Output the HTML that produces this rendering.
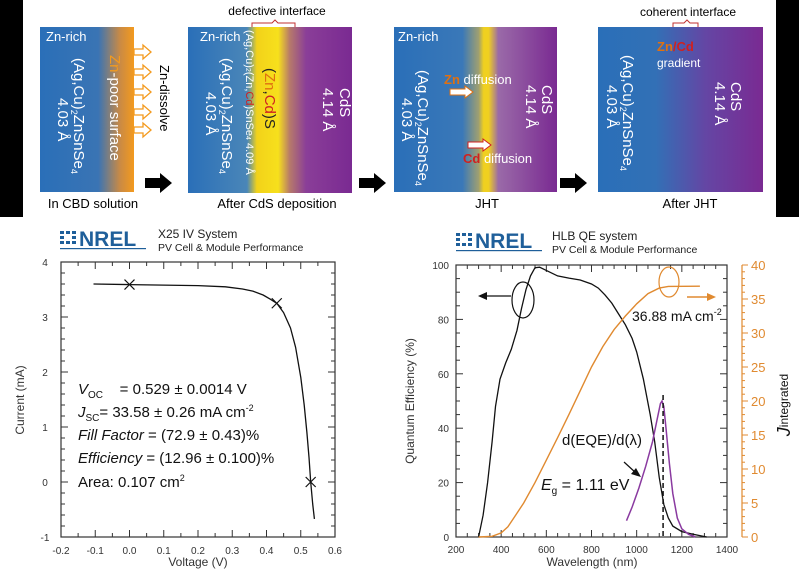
<!DOCTYPE html>
<html><head><meta charset="utf-8"><style>
html,body{margin:0;padding:0;background:#fff;width:799px;height:574px;overflow:hidden}
svg{display:block;font-family:"Liberation Sans",sans-serif}
</style></head><body>
<svg id="s" width="799" height="574" viewBox="0 0 799 574">
<defs>
<linearGradient id="g1" x1="0" x2="1"><stop offset="0" stop-color="#2a6fb8"/><stop offset="0.62" stop-color="#3a74b4"/><stop offset="0.85" stop-color="#c98a45"/><stop offset="1" stop-color="#f39a1e"/></linearGradient>
<linearGradient id="g2" x1="0" x2="1"><stop offset="0" stop-color="#2a6fb8"/><stop offset="0.36" stop-color="#4a86b8"/><stop offset="0.42" stop-color="#f2d21a"/><stop offset="0.55" stop-color="#f7e01c"/><stop offset="0.62" stop-color="#b77a6a"/><stop offset="0.72" stop-color="#8a3e98"/><stop offset="1" stop-color="#7a2a92"/></linearGradient>
<linearGradient id="g3" x1="0" x2="1"><stop offset="0" stop-color="#2a6fb8"/><stop offset="0.42" stop-color="#3a78b8"/><stop offset="0.52" stop-color="#a0a070"/><stop offset="0.55" stop-color="#f0d020"/><stop offset="0.58" stop-color="#f0d020"/><stop offset="0.64" stop-color="#9a6aa8"/><stop offset="1" stop-color="#7a2a92"/></linearGradient>
<linearGradient id="g4" x1="0" x2="1"><stop offset="0" stop-color="#2a6fb8"/><stop offset="0.35" stop-color="#3270b6"/><stop offset="0.65" stop-color="#6446a4"/><stop offset="1" stop-color="#7a2a92"/></linearGradient>
</defs>
<rect x="0" y="0" width="23" height="217" fill="#000"/>
<rect x="776" y="0" width="23" height="217" fill="#000"/>
<rect x="40" y="27" width="94" height="165" fill="url(#g1)"/>
<rect x="188" y="27" width="164" height="166" fill="url(#g2)"/>
<rect x="394" y="27" width="163" height="165" fill="url(#g3)"/>
<rect x="598" y="27" width="165" height="165" fill="url(#g4)"/>
<g fill="#000"><polygon points="145,178 160,178 160,173 172,183 160,193 160,188 145,188"/>
<polygon points="359,178 374,178 374,173 386,183 374,193 374,188 359,188"/>
<polygon points="560,178 575,178 575,173 587,183 575,193 575,188 560,188"/></g>
<g font-size="13" fill="#000" text-anchor="middle">
<text x="93" y="208">In CBD solution</text><text x="277" y="208">After CdS deposition</text>
<text x="487" y="208">JHT</text><text x="690" y="208">After JHT</text>
<text x="277" y="15" font-size="12">defective interface</text><text x="688" y="16" font-size="12">coherent interface</text>
</g>
<path d="M252,27 v-4 h20 l3,-3 l3,3 h17 v4" fill="none" stroke="#c03030" stroke-width="1"/>
<path d="M673,27 v-4 h11 l3,-3 l3,3 h8 v4" fill="none" stroke="#c03030" stroke-width="1"/>
<g fill="#fff" font-size="13">
<text x="46" y="41">Zn-rich</text><text x="200" y="41">Zn-rich</text><text x="398" y="41">Zn-rich</text>
</g>
<g fill="#fff" font-size="15">
<text transform="translate(74,58) rotate(90)">(Ag,Cu)<tspan font-size="9" dy="3">2</tspan><tspan dy="-3">ZnSnSe</tspan><tspan font-size="9" dy="3">4</tspan></text>
<text transform="translate(58,98) rotate(90)">4.03 Å</text>
<text transform="translate(110,55) rotate(90)"><tspan fill="#f39a1e">Zn</tspan>-poor surface</text>
<text transform="translate(222,58) rotate(90)">(Ag,Cu)<tspan font-size="9" dy="3">2</tspan><tspan dy="-3">ZnSnSe</tspan><tspan font-size="9" dy="3">4</tspan></text>
<text transform="translate(206,92) rotate(90)">4.03 Å</text>
<text transform="translate(246,30) rotate(90)" font-size="11">(Ag,Cu)<tspan font-size="7">2</tspan>(Zn,<tspan fill="#d02020">Cd</tspan>)SnSe<tspan font-size="7">4</tspan>  4.09 Å</text>
<text transform="translate(265,68) rotate(90)" fill="#222">(<tspan fill="#e07010">Zn</tspan>,<tspan fill="#d02020">Cd</tspan>)S</text>
<text transform="translate(340,88) rotate(90)">CdS</text><text transform="translate(323,88) rotate(90)">4.14 Å</text>
<text transform="translate(418,70) rotate(90)">(Ag,Cu)<tspan font-size="9" dy="3">2</tspan><tspan dy="-3">ZnSnSe</tspan><tspan font-size="9" dy="3">4</tspan></text>
<text transform="translate(402,98) rotate(90)">4.03 Å</text>
<text transform="translate(542,85) rotate(90)">CdS</text><text transform="translate(526,85) rotate(90)">4.14 Å</text>
<text transform="translate(623,55) rotate(90)">(Ag,Cu)<tspan font-size="9" dy="3">2</tspan><tspan dy="-3">ZnSnSe</tspan><tspan font-size="9" dy="3">4</tspan></text>
<text transform="translate(607,85) rotate(90)">4.03 Å</text>
<text transform="translate(731,82) rotate(90)">CdS</text><text transform="translate(715,82) rotate(90)">4.14 Å</text>
</g>
<g font-size="13" fill="#fff">
<text x="444" y="84"><tspan fill="#e07010" font-weight="bold">Zn</tspan> diffusion</text>
<text x="463" y="163"><tspan fill="#d02020" font-weight="bold">Cd</tspan> diffusion</text>
<text x="657" y="51" font-weight="bold"><tspan fill="#e07010">Zn</tspan><tspan fill="#d02020">/Cd</tspan></text>
<text x="657" y="67" font-size="12">gradient</text>
</g>
<text transform="translate(160,65) rotate(90)" font-size="13" fill="#000">Zn-dissolve</text>
<g id="oarrows" fill="none" stroke="#f39a1e" stroke-width="1.3"></g>
<g fill="#fff" stroke="#e07010" stroke-width="1"><polygon points="450,89 465,89 465,86 473,92 465,98 465,95 450,95"/></g>
<g fill="#fff" stroke="#d02020" stroke-width="1"><polygon points="468,142 483,142 483,139 491,145 483,151 483,148 468,148"/></g>
<g id="iv"></g>
<g id="qe"></g>
</svg>
<script>
const NS="http://www.w3.org/2000/svg";
function el(p,t,a,txt){const e=document.createElementNS(NS,t);for(const k in a)e.setAttribute(k,a[k]);if(txt!==undefined)e.textContent=txt;p.appendChild(e);return e;}
const oa=document.getElementById('oarrows');
[52,72,92,112,130].forEach(y=>el(oa,'polygon',{points:`134,${y-3} 143,${y-3} 143,${y-7} 151,${y} 143,${y+7} 143,${y+3} 134,${y+3}`}));
function logo(p,x,y){
 const g=el(p,'g',{});
 for(let i=0;i<3;i++)for(let j=0;j<3;j++)if(!(i==1&&j==1))el(g,'rect',{x:x+i*6,y:y+2+j*5,width:4,height:3,fill:'#1f5f9a'});
 el(g,'text',{x:x+19,y:y+17,'font-size':21,'font-weight':'bold',fill:'#1f5f9a'},'NREL');
 el(g,'rect',{x:x,y:y+19,width:86,height:1.2,fill:'#1f5f9a'});
}
const iv=document.getElementById('iv');
logo(iv,60,229);
el(iv,'text',{x:158,y:238,'font-size':12,fill:'#222'},'X25 IV System');
el(iv,'text',{x:158,y:251,'font-size':10.5,fill:'#222'},'PV Cell & Module Performance');
const L=61,R=335,T=262,B=537;
el(iv,'rect',{x:L,y:T,width:R-L,height:B-T,fill:'none',stroke:'#333','stroke-width':1.2});
const vx=v=>L+(v+0.2)*342.5, iy=i=>482-i*55;
for(let v=-0.2;v<=0.601;v+=0.05){const x=vx(v),maj=Math.abs(Math.round(v*10)-v*10)<1e-6,l=maj?7:4;
 el(iv,'line',{x1:x,y1:B,x2:x,y2:B-l,stroke:'#333'});el(iv,'line',{x1:x,y1:T,x2:x,y2:T+l,stroke:'#333'});
 if(maj)el(iv,'text',{x:x,y:B+17,'font-size':10,'text-anchor':'middle',fill:'#333'},v.toFixed(1).replace('-0.0','0.0'));}
for(let i=-1;i<=4.001;i+=0.2){const y=iy(i),maj=Math.abs(Math.round(i)-i)<1e-6,l=maj?7:4;
 el(iv,'line',{x1:L,y1:y,x2:L+l,y2:y,stroke:'#333'});el(iv,'line',{x1:R,y1:y,x2:R-l,y2:y,stroke:'#333'});
 if(maj)el(iv,'text',{x:45,y:y+4,'font-size':10,'text-anchor':'middle',fill:'#333'},Math.round(i));}
el(iv,'text',{x:198,y:566,'font-size':12,'text-anchor':'middle',fill:'#333'},'Voltage (V)');
el(iv,'text',{transform:'translate(24,400) rotate(-90)','font-size':12,'text-anchor':'middle',fill:'#333'},'Current (mA)');
const ivd=[[-0.105,3.6],[0,3.59],[0.1,3.58],[0.2,3.57],[0.28,3.55],[0.33,3.51],[0.36,3.47],[0.39,3.4],[0.41,3.33],[0.43,3.25],[0.45,3.08],[0.47,2.8],[0.485,2.45],[0.5,1.9],[0.51,1.4],[0.518,0.9],[0.524,0.45],[0.529,0],[0.535,-0.4],[0.54,-0.67]];
el(iv,'polyline',{points:ivd.map(([v,i])=>vx(v).toFixed(1)+','+iy(i).toFixed(1)).join(' '),fill:'none',stroke:'#111','stroke-width':1.3,'stroke-linejoin':'round'});
[[0,3.59],[0.43,3.25],[0.529,0]].forEach(([v,i])=>{const x=vx(v),y=iy(i);
 el(iv,'path',{d:`M${x-5},${y-5}L${x+5},${y+5}M${x-5},${y+5}L${x+5},${y-5}`,stroke:'#111','stroke-width':1.2});});
const tx=el(iv,'g',{'font-size':15,fill:'#111'});
tx.innerHTML=`<text x="78" y="394"><tspan font-style="italic">V</tspan><tspan font-size="10" dy="4">OC</tspan><tspan dy="-4" xml:space="preserve">    = 0.529 ± 0.0014 V</tspan></text>
<text x="78" y="417"><tspan font-style="italic">J</tspan><tspan font-size="10" dy="4">SC</tspan><tspan dy="-4">= 33.58 ± 0.26 mA cm</tspan><tspan font-size="9" dy="-6">-2</tspan></text>
<text x="78" y="440"><tspan font-style="italic">Fill Factor</tspan> = (72.9 ± 0.43)%</text>
<text x="78" y="463"><tspan font-style="italic">Efficiency</tspan> = (12.96 ± 0.100)%</text>
<text x="78" y="487">Area: 0.107 cm<tspan font-size="9" dy="-6">2</tspan></text>`;
const qe=document.getElementById('qe');
logo(qe,456,231);
el(qe,'text',{x:552,y:240,'font-size':12,fill:'#222'},'HLB QE system');
el(qe,'text',{x:552,y:253,'font-size':10.5,fill:'#222'},'PV Cell & Module Performance');
const L2=456,R2=727,T2=265,B2=537;
el(qe,'rect',{x:L2,y:T2,width:R2-L2,height:B2-T2,fill:'none',stroke:'#333','stroke-width':1.2});
const wx=w=>L2+(w-200)*0.22583, qy=q=>B2-q*2.72, jy=j=>B2-j*6.8;
for(let w=200;w<=1400;w+=50){const x=wx(w),maj=w%200==0,l=maj?7:4;
 el(qe,'line',{x1:x,y1:B2,x2:x,y2:B2-l,stroke:'#333'});el(qe,'line',{x1:x,y1:T2,x2:x,y2:T2+l,stroke:'#333'});
 if(maj)el(qe,'text',{x:x,y:B2+16,'font-size':10,'text-anchor':'middle',fill:'#333'},w);}
for(let q=0;q<=100;q+=5){const y=qy(q),maj=q%20==0,l=maj?7:4;
 el(qe,'line',{x1:L2,y1:y,x2:L2+l,y2:y,stroke:'#333'});el(qe,'line',{x1:R2,y1:y,x2:R2-l,y2:y,stroke:'#333'});
 if(maj)el(qe,'text',{x:L2-7,y:y+4,'font-size':10,'text-anchor':'end',fill:'#333'},q);}
el(qe,'line',{x1:742,y1:T2,x2:742,y2:B2,stroke:'#e08a30','stroke-width':1.2});
for(let j=0;j<=40;j+=1){const y=jy(j),maj=j%5==0;
 el(qe,'line',{x1:742,y1:y,x2:maj?748:745,y2:y,stroke:'#e08a30'});
 if(maj)el(qe,'text',{x:751,y:y+5,'font-size':13,fill:'#e08a30'},j);}
el(qe,'text',{x:592,y:566,'font-size':12,'text-anchor':'middle',fill:'#333'},'Wavelength (nm)');
el(qe,'text',{transform:'translate(414,401) rotate(-90)','font-size':12,'text-anchor':'middle',fill:'#333'},'Quantum Efficiency (%)');
const jt=el(qe,'text',{transform:'translate(790,405) rotate(-90)','font-size':18,'text-anchor':'middle',fill:'#111'});
jt.innerHTML='<tspan font-style="italic">J</tspan><tspan font-size="12" dy="-2">integrated</tspan>';
function line(data,fy,st,sw,dash){el(qe,'polyline',{points:data.map(([w,v])=>wx(w).toFixed(1)+','+fy(v).toFixed(1)).join(' '),fill:'none',stroke:st,'stroke-width':sw||1.3,'stroke-dasharray':dash||'none'});}
line([[300,0],[320,8],[340,20],[360,35],[375,48],[395,58],[420,64],[445,69],[470,76],[490,84],[510,91],[530,96],[550,99],[570,99.2],[600,98],[650,96],[700,95.2],[750,94.5],[800,93],[830,91.5],[860,89],[890,86],[920,82],[950,78],[980,73],[1000,68],[1030,58],[1060,45],[1080,35],[1100,22],[1120,12],[1140,7],[1160,4],[1200,2],[1250,1],[1310,0]],qy,'#111');
line([[300,0],[360,0.1],[400,0.6],[430,1.5],[460,3],[500,5],[550,8],[600,11.3],[650,14.6],[700,18],[750,21.5],[800,25],[850,28],[900,30.5],[950,32.5],[1000,34.3],[1050,35.8],[1100,36.6],[1140,36.85],[1280,36.88]],jy,'#e08a30',1.4);
line([[955,6],[980,11],[1010,18],[1040,26],[1070,35],[1090,43],[1105,49],[1112,50],[1120,48],[1130,40],[1145,27],[1160,16],[1180,7],[1200,3],[1230,1],[1260,0]],qy,'#8a3aa0',1.5);
el(qe,'line',{x1:wx(1117),y1:395,x2:wx(1117),y2:B2,stroke:'#111','stroke-width':1.5,'stroke-dasharray':'5,3'});
el(qe,'ellipse',{cx:523,cy:300,rx:11,ry:18,fill:'none',stroke:'#111','stroke-width':1.2});
el(qe,'line',{x1:511,y1:296,x2:484,y2:296,stroke:'#111','stroke-width':1.2});
el(qe,'polygon',{points:'478,296 487,292 487,300',fill:'#111'});
el(qe,'ellipse',{cx:669,cy:282,rx:10,ry:15,fill:'none',stroke:'#e08a30','stroke-width':1.2});
el(qe,'line',{x1:687,y1:297,x2:708,y2:297,stroke:'#e08a30','stroke-width':1.4});
el(qe,'polygon',{points:'716,297 707,293 707,301',fill:'#e08a30'});
const t1=el(qe,'text',{x:632,y:321,'font-size':14,fill:'#111'});t1.innerHTML='36.88 mA cm<tspan font-size="9" dy="-6">-2</tspan>';
el(qe,'text',{x:562,y:445,'font-size':15,fill:'#111'},'d(EQE)/d(λ)');
el(qe,'line',{x1:624,y1:462,x2:636,y2:473,stroke:'#111','stroke-width':1.2});
el(qe,'polygon',{points:'641,477 631,474 636,468',fill:'#111'});
const t2=el(qe,'text',{x:541,y:490,'font-size':16,fill:'#111'});t2.innerHTML='<tspan font-style="italic">E</tspan><tspan font-size="10" dy="4">g</tspan><tspan dy="-4"> = 1.11 eV</tspan>';
</script>
</body></html>
